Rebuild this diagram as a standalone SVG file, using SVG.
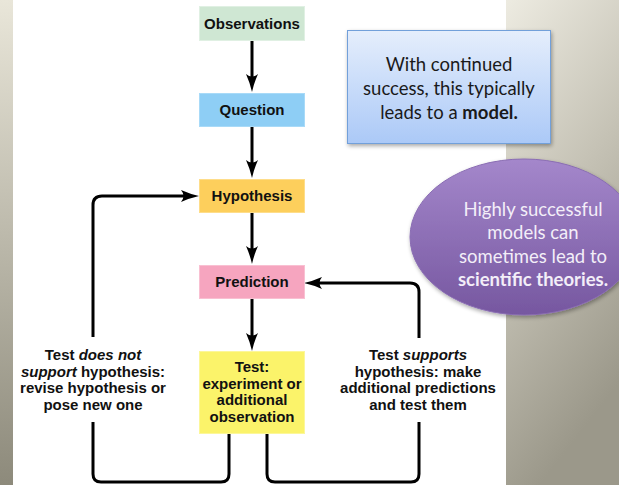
<svg xmlns="http://www.w3.org/2000/svg" width="619" height="485" viewBox="0 0 619 485">
<defs>
<style>
.box{stroke-width:1}
.lbl{font-family:"Liberation Sans",Arial,sans-serif;font-weight:bold;font-size:15px;fill:#111;text-anchor:middle}
.note{font-family:Lato,"Open Sans",sans-serif;font-size:18.5px;text-anchor:middle}
.conn{fill:none;stroke:#000;stroke-width:3;stroke-linejoin:round}
</style>
<linearGradient id="bgL" x1="0" y1="0" x2="0" y2="1"><stop offset="0" stop-color="#E9E6D9"/><stop offset="1" stop-color="#8D8A7B"/></linearGradient>
<linearGradient id="bgR" x1="0" y1="0" x2="0.3" y2="1"><stop offset="0" stop-color="#EDEBE1"/><stop offset="0.5" stop-color="#C5C2B5"/><stop offset="1" stop-color="#9B988A"/></linearGradient>
<linearGradient id="blueG" x1="0" y1="0" x2="0" y2="1"><stop offset="0" stop-color="#E5EEFC"/><stop offset="1" stop-color="#ABC9F7"/></linearGradient>
<linearGradient id="purpG" x1="0" y1="0" x2="0" y2="1"><stop offset="0" stop-color="#A487CB"/><stop offset="1" stop-color="#7657A0"/></linearGradient>
<filter id="sh" x="-10%" y="-10%" width="130%" height="130%"><feGaussianBlur in="SourceAlpha" stdDeviation="2"/><feOffset dx="1" dy="2"/><feComponentTransfer><feFuncA type="linear" slope="0.35"/></feComponentTransfer><feMerge><feMergeNode/><feMergeNode in="SourceGraphic"/></feMerge></filter>
<marker id="ah" viewBox="0 0 18 12" refX="8" refY="6" markerWidth="18" markerHeight="12" markerUnits="userSpaceOnUse" orient="auto">
<path d="M0,0 Q9,4 18,6 Q9,8 0,12 Q5,6 0,0 Z" fill="#000"/>
</marker>
</defs>

<g id="background">
<rect x="0" y="0" width="619" height="485" fill="#FFFFFF"/>
<rect x="0" y="0" width="13" height="485" fill="url(#bgL)"/>
<rect x="506" y="0" width="113" height="485" fill="url(#bgR)"/>
</g>

<g id="connectors">
<path class="conn" d="M252,40 V82" marker-end="url(#ah)"/>
<path class="conn" d="M252,127 V168" marker-end="url(#ah)"/>
<path class="conn" d="M252,213 V254" marker-end="url(#ah)"/>
<path class="conn" d="M252,299 V341" marker-end="url(#ah)"/>
<path class="conn" d="M229,433 V474 Q229,482 221,482 H101 Q93,482 93,474 V422"/>
<path class="conn" d="M93,337 V205 Q93,196 102,196 H189" marker-end="url(#ah)"/>
<path class="conn" d="M267,433 V474 Q267,482 275,482 H411 Q419,482 419,474 V422"/>
<path class="conn" d="M419,338 V292 Q419,283 410,283 H314" marker-end="url(#ah)"/>
</g>

<g id="observations">
<rect class="box" x="199.5" y="6.5" width="105" height="34" fill="#CFE7D3" stroke="#E0F0E3"/>
<text class="lbl" x="252" y="29">Observations</text>
</g>
<g id="question">
<rect class="box" x="199.5" y="93.5" width="105" height="33" fill="#8ECEF5" stroke="#A8DAF8"/>
<text class="lbl" x="252" y="115">Question</text>
</g>
<g id="hypothesis">
<rect class="box" x="199.5" y="179.5" width="105" height="33" fill="#FDCF5C" stroke="#FEDD8A"/>
<text class="lbl" x="252" y="201">Hypothesis</text>
</g>
<g id="prediction">
<rect class="box" x="199.5" y="265.5" width="105" height="33" fill="#F6A5BF" stroke="#F9C0D2"/>
<text class="lbl" x="252" y="287">Prediction</text>
</g>
<g id="test">
<rect class="box" x="199.5" y="351.5" width="105" height="82" fill="#FBF36A" stroke="#FCF79A"/>
<text class="lbl" x="252" y="372">Test:</text>
<text class="lbl" x="252" y="389">experiment or</text>
<text class="lbl" x="252" y="405">additional</text>
<text class="lbl" x="252" y="422">observation</text>
</g>

<g id="label-not-support">
<text class="lbl" x="93" y="360">Test <tspan font-style="italic">does not</tspan></text>
<text class="lbl" x="93" y="377"><tspan font-style="italic">support</tspan> hypothesis:</text>
<text class="lbl" x="93" y="393">revise hypothesis or</text>
<text class="lbl" x="93" y="410">pose new one</text>
</g>
<g id="label-supports">
<text class="lbl" x="418" y="360">Test <tspan font-style="italic">supports</tspan></text>
<text class="lbl" x="418" y="377">hypothesis: make</text>
<text class="lbl" x="418" y="393">additional predictions</text>
<text class="lbl" x="418" y="410">and test them</text>
</g>

<g id="model-note">
<rect x="347.5" y="30.5" width="203" height="113" fill="url(#blueG)" stroke="#72A0DA" filter="url(#sh)"/>
<text class="note" x="449" y="71" fill="#1A1A1A">With continued</text>
<text class="note" x="449" y="95" fill="#1A1A1A">success, this typically</text>
<text class="note" x="449" y="119" fill="#1A1A1A">leads to a <tspan font-weight="bold">model.</tspan></text>
</g>

<g id="theory-note">
<ellipse cx="524" cy="237" rx="114" ry="78" fill="url(#purpG)" stroke="#8A6DB3" filter="url(#sh)"/>
<text class="note" x="533" y="216" fill="#F3EEF8">Highly successful</text>
<text class="note" x="533" y="239" fill="#F3EEF8">models can</text>
<text class="note" x="533" y="263" fill="#F3EEF8">sometimes lead to</text>
<text class="note" x="533" y="286" fill="#F3EEF8" font-weight="bold">scientific theories.</text>
</g>
</svg>
